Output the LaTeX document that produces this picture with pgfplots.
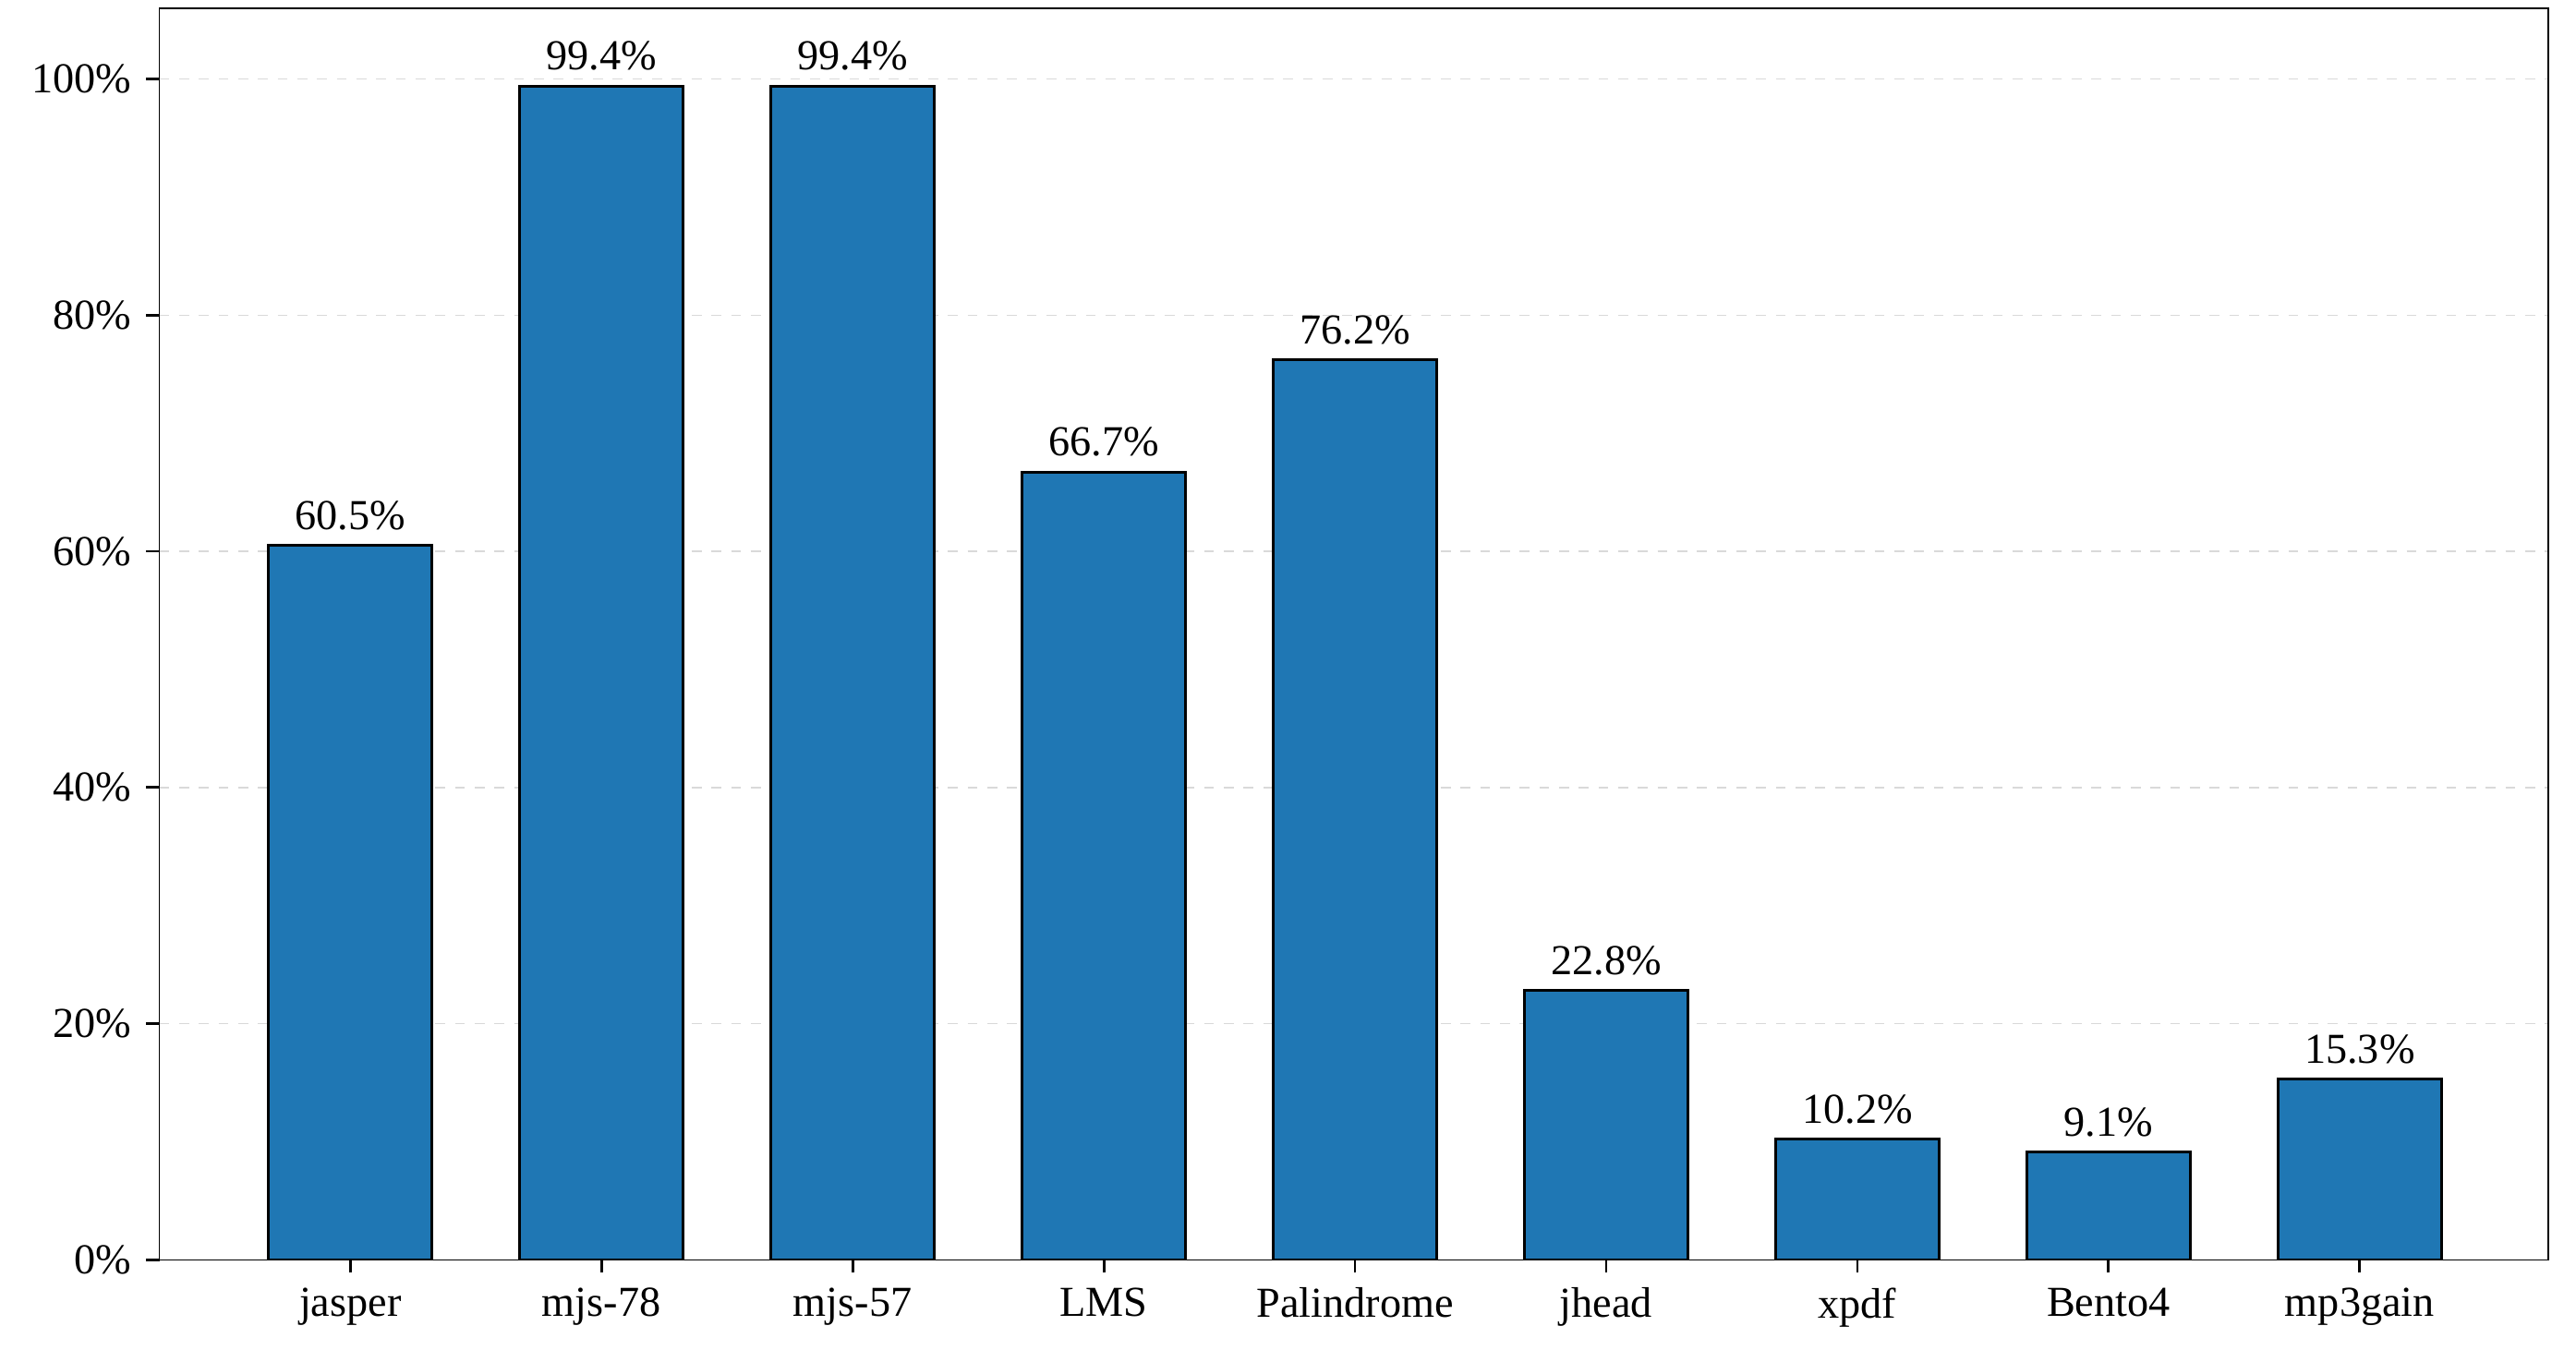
\documentclass[border=0pt]{standalone}
\usepackage{pgfplots}
\pgfplotsset{compat=1.18}
\usepackage{fontspec}
\setmainfont{Liberation Serif}
\definecolor{barblue}{HTML}{1F77B4}
\begin{document}
\fontsize{13}{15}\selectfont
\begin{tikzpicture}
\path[use as bounding box] (-48.5pt,-31pt) rectangle (735.5pt,383.5pt);
\begin{axis}[at={(0,0)},anchor=south west,scale only axis,width=727pt,height=381pt,
 xmin=-0.76,xmax=8.75,ymin=0,ymax=106,
 xtick={0,...,8},xticklabels={jasper,mjs-78,mjs-57,LMS,Palindrome,jhead,xpdf,Bento4,mp3gain},
 ytick={0,20,40,60,80,100},yticklabel={\pgfmathprintnumber{\tick}\%},
 /pgf/number format/assume math mode=true,
 tick style={black,thick},tick align=outside,major tick length=4pt,
 xtick pos=bottom,ytick pos=left,
 ymajorgrids,grid style={dashed,gray!30},
 every tick label/.append style={font=\fontsize{13}{15}\selectfont},
 nodes near coords={\pgfmathprintnumber[fixed,precision=1,fixed zerofill]{\pgfplotspointmeta}\%},
 nodes near coords style={font=\fontsize{13}{15}\selectfont,black},
]
\addplot[ybar,bar width=0.65,fill=barblue,draw=black,thick] coordinates {
(0,60.5)(1,99.4)(2,99.4)(3,66.7)(4,76.2)(5,22.8)(6,10.2)(7,9.1)(8,15.3)};
\end{axis}
\end{tikzpicture}
\end{document}
